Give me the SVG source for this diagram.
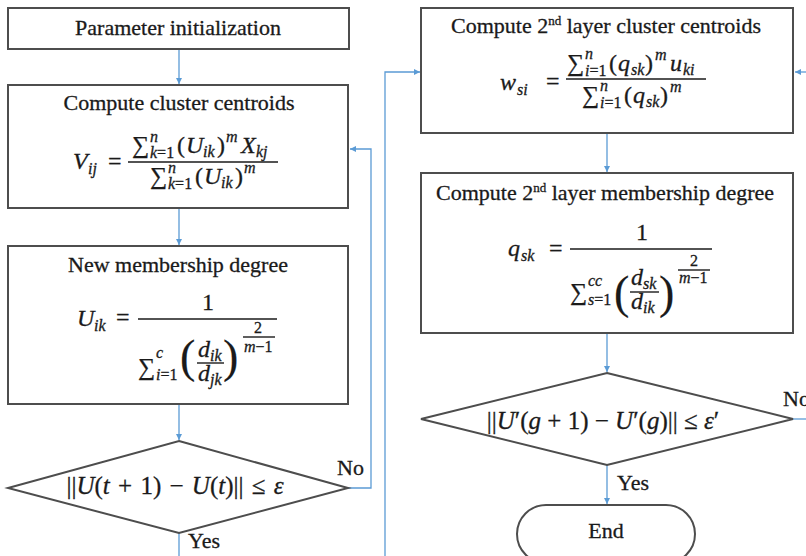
<svg xmlns="http://www.w3.org/2000/svg" width="806" height="556" viewBox="0 0 806 556">
<style>
.box{fill:#fff;stroke:#4d4d4d;stroke-width:2}
.c{fill:none;stroke:#5b9bd5;stroke-width:1.3}
text{stroke:#1a1a1a;stroke-width:0.3}
.t{font-family:"Liberation Serif","Times New Roman",serif;font-size:22px;fill:#1a1a1a}
.mi{font-family:"Liberation Serif","DejaVu Serif",serif;font-style:italic;font-size:24px;fill:#1a1a1a}
.mo{font-family:"Liberation Serif","DejaVu Serif",serif;font-size:24px;fill:#1a1a1a}
.si{font-family:"Liberation Serif","DejaVu Serif",serif;font-style:italic;font-size:16px;fill:#1a1a1a}
.so{font-family:"Liberation Serif","DejaVu Serif",serif;font-size:16px;fill:#1a1a1a}
.sr{font-style:normal}
.it{font-style:italic}
.bp{font-family:"Liberation Serif","DejaVu Serif",serif;font-size:46px;fill:#1a1a1a;stroke-width:0.2}
.fb{stroke:#1a1a1a;stroke-width:1.4}
.dt{font-family:"Liberation Serif","DejaVu Serif",serif;font-size:25px;fill:#1a1a1a}
</style>
<defs>
<marker id="ah" markerUnits="userSpaceOnUse" markerWidth="7" markerHeight="7" refX="6" refY="3" orient="auto">
<path d="M0,0 L6,3 L0,6 z" fill="#5b9bd5"/>
</marker>
</defs>

<g id="connectors">
<path class="c" d="M179,49 V84" marker-end="url(#ah)"/>
<path class="c" d="M179,208 V245" marker-end="url(#ah)"/>
<path class="c" d="M179,404 V440" marker-end="url(#ah)"/>
<path class="c" d="M348,488 H371 V149 H350" marker-end="url(#ah)"/>
<path class="c" d="M179,533 V556"/>
<path class="c" d="M385,556 V72 H420" marker-end="url(#ah)"/>
<path class="c" d="M607,133 V172" marker-end="url(#ah)"/>
<path class="c" d="M607,333 V372" marker-end="url(#ah)"/>
<path class="c" d="M607,465 V504" marker-end="url(#ah)"/>
<path class="c" d="M806,72 H795" marker-end="url(#ah)"/>
<path class="c" d="M793,419 H806"/>
<text class="t" x="337" y="475" font-size="21">No</text>
<text class="t" x="188" y="548" font-size="21">Yes</text>
<text class="t" x="617" y="490" font-size="21">Yes</text>
<text class="t" x="783" y="406" font-size="21">No</text>
</g>

<g id="param-init">
<rect class="box" x="8" y="8" width="341" height="41"/>
<text class="t" x="178" y="35" text-anchor="middle">Parameter initialization</text>
</g>

<g id="cluster-centroids">
<rect class="box" x="8" y="85" width="340" height="123"/>
<text class="t" x="179" y="110" text-anchor="middle">Compute cluster centroids</text>
<text class="mi" x="73" y="169">V</text>
<text class="si" x="88" y="174">ij</text>
<text class="mo" x="108" y="169">=</text>
<line class="fb" x1="128" y1="162" x2="278" y2="162"/>
<text class="mo" x="132" y="153">∑</text>
<text class="si" x="150" y="142">n</text>
<text class="si" x="150" y="158">k<tspan class="sr">=1</tspan></text>
<text class="mo" x="177" y="153">(</text>
<text class="mi" x="186" y="153">U</text>
<text class="si" x="203" y="157">ik</text>
<text class="mo" x="217" y="153">)</text>
<text class="si" x="226" y="142">m</text>
<text class="mi" x="241" y="153">X</text>
<text class="si" x="256" y="157">kj</text>
<text class="mo" x="150" y="184">∑</text>
<text class="si" x="168" y="173">n</text>
<text class="si" x="168" y="189">k<tspan class="sr">=1</tspan></text>
<text class="mo" x="195" y="184">(</text>
<text class="mi" x="204" y="184">U</text>
<text class="si" x="221" y="188">ik</text>
<text class="mo" x="235" y="184">)</text>
<text class="si" x="244" y="173">m</text>
</g>

<g id="new-membership">
<rect class="box" x="8" y="246" width="340" height="158"/>
<text class="t" x="178" y="272" text-anchor="middle">New membership degree</text>
<text class="mi" x="77" y="326">U</text>
<text class="si" x="94" y="331">ik</text>
<text class="mo" x="116" y="325">=</text>
<line class="fb" x1="138" y1="319" x2="277" y2="319"/>
<text class="mo" x="202" y="310">1</text>
<text class="mo" x="138" y="375">∑</text>
<text class="si" x="156" y="358">c</text>
<text class="si" x="156" y="380">i<tspan class="sr">=1</tspan></text>
<text class="bp" x="180" y="372">(</text>
<text class="mi" x="198" y="357">d</text>
<text class="si" x="210" y="361">ik</text>
<line class="fb" x1="197" y1="363" x2="224" y2="363"/>
<text class="mi" x="198" y="381">d</text>
<text class="si" x="210" y="385">jk</text>
<text class="bp" x="223" y="372">)</text>
<text class="so" x="254" y="333">2</text>
<line class="fb" x1="243" y1="337" x2="275" y2="337" stroke-width="1"/>
<text class="si" x="244" y="352">m<tspan class="sr">−1</tspan></text>
</g>

<g id="convergence-1">
<polygon class="box" points="179,441 348,488 179,533 8,488"/>
<text class="dt" x="175" y="494" text-anchor="middle" word-spacing="2">||<tspan class="it">U</tspan>(<tspan class="it">t</tspan> + 1) − <tspan class="it">U</tspan>(<tspan class="it">t</tspan>)|| ≤ <tspan class="it">ε</tspan></text>
</g>

<g id="layer2-centroids">
<rect class="box" x="421" y="8" width="372" height="125"/>
<text class="t" x="606" y="33" text-anchor="middle">Compute 2<tspan font-size="13" dy="-8">nd</tspan><tspan dy="8"> layer cluster centroids</tspan></text>
<text class="mi" x="500" y="90">w</text>
<text class="si" x="517" y="95">si</text>
<text class="mo" x="546" y="89">=</text>
<line class="fb" x1="566" y1="79" x2="706" y2="79"/>
<text class="mo" x="567" y="71">∑</text>
<text class="si" x="585" y="59">n</text>
<text class="si" x="585" y="76">i<tspan class="sr">=1</tspan></text>
<text class="mo" x="609" y="71">(</text>
<text class="mi" x="618" y="71">q</text>
<text class="si" x="631" y="75">sk</text>
<text class="mo" x="645" y="71">)</text>
<text class="si" x="655" y="60">m</text>
<text class="mi" x="670" y="71">u</text>
<text class="si" x="683" y="75">ki</text>
<text class="mo" x="582" y="103">∑</text>
<text class="si" x="600" y="91">n</text>
<text class="si" x="600" y="108">i<tspan class="sr">=1</tspan></text>
<text class="mo" x="624" y="103">(</text>
<text class="mi" x="633" y="103">q</text>
<text class="si" x="646" y="107">sk</text>
<text class="mo" x="660" y="103">)</text>
<text class="si" x="670" y="92">m</text>
</g>

<g id="layer2-membership">
<rect class="box" x="421" y="173" width="372" height="160"/>
<text class="t" x="605" y="200" text-anchor="middle">Compute 2<tspan font-size="13" dy="-8">nd</tspan><tspan dy="8"> layer membership degree</tspan></text>
<text class="mi" x="508" y="256">q</text>
<text class="si" x="521" y="261">sk</text>
<text class="mo" x="549" y="256">=</text>
<line class="fb" x1="570" y1="249" x2="712" y2="249"/>
<text class="mo" x="636" y="240">1</text>
<text class="mo" x="570" y="300">∑</text>
<text class="si" x="588" y="286">cc</text>
<text class="si" x="588" y="305">s<tspan class="sr">=1</tspan></text>
<text class="bp" x="614" y="308" font-size="50">(</text>
<text class="mi" x="631" y="285">d</text>
<text class="si" x="643" y="289">sk</text>
<line class="fb" x1="630" y1="292" x2="659" y2="292"/>
<text class="mi" x="631" y="309">d</text>
<text class="si" x="643" y="313">ik</text>
<text class="bp" x="659" y="308" font-size="50">)</text>
<text class="so" x="690" y="266">2</text>
<line class="fb" x1="678" y1="270" x2="710" y2="270" stroke-width="1"/>
<text class="si" x="679" y="283">m<tspan class="sr">−1</tspan></text>
</g>

<g id="convergence-2">
<polygon class="box" points="607,373 793,419 607,465 421,419"/>
<text class="dt" x="603" y="429" text-anchor="middle">||<tspan class="it">U</tspan>′(<tspan class="it">g</tspan> + 1) − <tspan class="it">U</tspan>′(<tspan class="it">g</tspan>)|| ≤ <tspan class="it">ε</tspan>′</text>
</g>

<g id="end">
<rect class="box" x="517" y="505" width="178" height="58" rx="29" ry="29"/>
<text class="t" x="606" y="538" text-anchor="middle">End</text>
</g>
</svg>
